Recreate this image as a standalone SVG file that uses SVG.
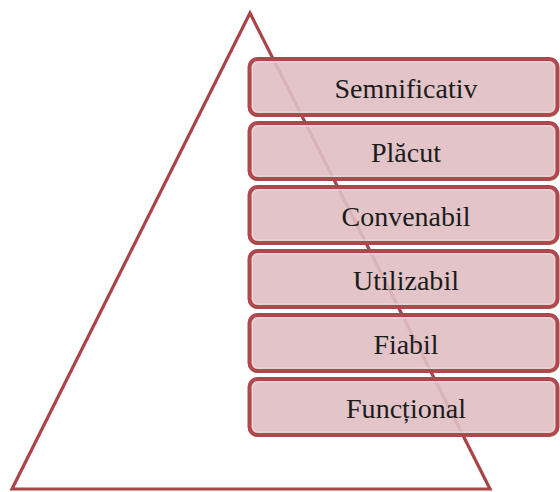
<svg xmlns="http://www.w3.org/2000/svg" width="560" height="492" viewBox="0 0 560 492">
<style>
.tri{fill:none;stroke:#a94548;stroke-width:3.2;stroke-linejoin:miter}
.box{fill:#dfbec3;fill-opacity:0.9;stroke:#b0474d;stroke-width:4}
.inner{fill:none;stroke:#f1d9dc;stroke-width:1}
.lbl{font-family:"Liberation Serif","Times New Roman",serif;font-size:27px;fill:#1c1c1c;text-anchor:middle}
</style>
<rect width="560" height="492" fill="#ffffff"/>
<g id="pyramid">
<polygon class="tri" points="250,13 12,489 490,489"/>
</g>
<g id="n1"><rect class="box" x="249.5" y="59" width="308" height="56" rx="8"/><rect class="inner" x="252.5" y="62" width="302" height="50" rx="6"/><text class="lbl" x="406" y="98" textLength="143" lengthAdjust="spacingAndGlyphs">Semnificativ</text></g>
<g id="n2"><rect class="box" x="249.5" y="123" width="308" height="56" rx="8"/><rect class="inner" x="252.5" y="126" width="302" height="50" rx="6"/><text class="lbl" x="406" y="162" textLength="70" lengthAdjust="spacingAndGlyphs">Plăcut</text></g>
<g id="n3"><rect class="box" x="249.5" y="187" width="308" height="56" rx="8"/><rect class="inner" x="252.5" y="190" width="302" height="50" rx="6"/><text class="lbl" x="406" y="226" textLength="129" lengthAdjust="spacingAndGlyphs">Convenabil</text></g>
<g id="n4"><rect class="box" x="249.5" y="251" width="308" height="56" rx="8"/><rect class="inner" x="252.5" y="254" width="302" height="50" rx="6"/><text class="lbl" x="406" y="290" textLength="106" lengthAdjust="spacingAndGlyphs">Utilizabil</text></g>
<g id="n5"><rect class="box" x="249.5" y="315" width="308" height="56" rx="8"/><rect class="inner" x="252.5" y="318" width="302" height="50" rx="6"/><text class="lbl" x="406" y="354" textLength="65" lengthAdjust="spacingAndGlyphs">Fiabil</text></g>
<g id="n6"><rect class="box" x="249.5" y="379" width="308" height="56" rx="8"/><rect class="inner" x="252.5" y="382" width="302" height="50" rx="6"/><text class="lbl" x="406" y="418" textLength="120" lengthAdjust="spacingAndGlyphs">Funcțional</text></g>
<g id="connectors"></g>
</svg>
